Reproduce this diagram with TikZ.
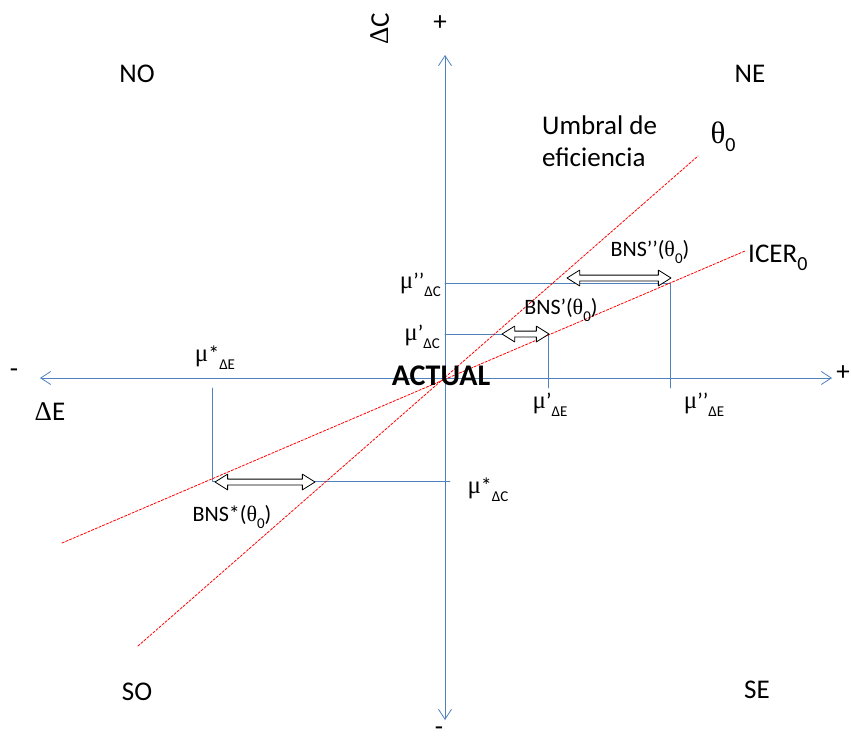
\documentclass[tikz,border=0pt]{standalone}
\usepackage{fontspec}
\setmainfont{Carlito}
\newfontfamily\grk{Liberation Serif}
\usepackage{tikz}
\usetikzlibrary{arrows.meta,shapes.arrows}
\definecolor{axisblue}{HTML}{4F81BD}
\definecolor{threshred}{HTML}{FF0000}
\newcommand{\ssub}[1]{\raisebox{-0.35em}{\fontsize{15pt}{15pt}\selectfont #1}}
\newcommand{\bsub}[1]{\raisebox{-0.3em}{\fontsize{20pt}{20pt}\selectfont #1}}
\newcommand{\smu}{{\grk\fontsize{25pt}{25pt}\selectfont μ}}
\tikzset{
    every picture/.style={line cap=round,line join=round},
    axisline/.style={draw=axisblue,line width=0.8pt,
      {Straight Barb[length=10pt,width=13pt]}-{Straight Barb[length=10pt,width=13pt]}},
    guideline/.style={draw=axisblue,line width=0.8pt},
    threshline/.style={draw=threshred,line width=0.8pt,dash pattern=on 2.5pt off 1.5pt},
    biglabel/.style={font=\fontsize{27pt}{32pt}\selectfont,inner sep=0pt,align=left},
    smalllabel/.style={font=\fontsize{22pt}{24pt}\selectfont,inner sep=0pt},
    bnsarrow/.style={double arrow,draw=black,fill=white,line width=0.8pt,
      inner xsep=0pt,inner ysep=2.5pt,double arrow head extend=5pt,double arrow tip angle=64}
}
\begin{document}
\begin{tikzpicture}[x=1pt,y=-1pt]
  \useasboundingbox (0,0) rectangle (851,744);
  \coordinate (O) at (445,378);
  \coordinate (xneg) at (40,378);
  \coordinate (xpos) at (832,378);
  \coordinate (ypos) at (445,55);
  \coordinate (yneg) at (445,720);
  \coordinate (th1) at (138,646);
  \coordinate (th2) at (698,156);
  \coordinate (ic1) at (62,543);
  \coordinate (ic2) at (745,251);
  \coordinate (ddc) at (445,283);
  \coordinate (dd) at (670,283);
  \coordinate (dde) at (670,388);
  \coordinate (dc) at (445,334);
  \coordinate (d) at (548,334);
  \coordinate (de) at (548,388);
  \coordinate (se) at (212,388);
  \coordinate (s) at (212,481);
  \coordinate (sc) at (450,481);
  \draw[guideline] (ddc)--(dd)--(dde);
  \draw[guideline] (dc)--(d)--(de);
  \draw[guideline] (se)--(s)--(sc);
  \draw[axisline] (xneg)--(xpos);
  \draw[axisline] (yneg)--(ypos);
  \draw[threshline] (th1)--(th2);
  \draw[threshline] (ic1)--(ic2);
  \node[bnsarrow,minimum height=104pt] (bnsdd) at (619,278) {};
  \node[bnsarrow,minimum height=47pt] (bnsd) at (525.5,334) {};
  \node[bnsarrow,minimum height=100pt] (bnss) at (265,482) {};
  \node[biglabel] (no) at (137,74) {NO};
  \node[biglabel] (ne) at (750,74) {NE};
  \node[biglabel] (so) at (137,692) {SO};
  \node[biglabel] (se) at (757,690) {SE};
  \node[biglabel,rotate=90] (dclab) at (380,29) {{\grk Δ}C};
  \node[biglabel] (ptop) at (440,23) {+};
  \node[biglabel] (mbot) at (439,731) {-};
  \node[biglabel] (mleft) at (14,373) {-};
  \node[biglabel] (pright) at (843,373) {+};
  \node[biglabel] (delab) at (50,412) {{\grk Δ}E};
  \node[biglabel,font=\fontsize{30pt}{32pt}\selectfont\bfseries] (actual) at (441,376) {ACTUAL};
  \node[biglabel,anchor=west] (umbral) at (542,141) {Umbral de\\eficiencia};
  \node[biglabel] (thlab) at (723,137) {{\grk\fontsize{31pt}{31pt}\selectfont θ}\bsub{0}};
  \node[biglabel,anchor=west] (iclab) at (748,258) {ICER\bsub{0}};
  \node[smalllabel,anchor=east] (mddc) at (441,285) {\smu’’\ssub{ΔC}};
  \node[smalllabel,anchor=east] (mdc) at (440,337) {\smu’\ssub{ΔC}};
  \node[smalllabel] (msde) at (215,358) {\smu*\ssub{ΔE}};
  \node[smalllabel] (mde) at (550,405) {\smu’\ssub{ΔE}};
  \node[smalllabel] (mdde) at (704,405) {\smu’’\ssub{ΔE}};
  \node[smalllabel] (msdc) at (488,490) {\smu*\ssub{ΔC}};
  \node[smalllabel] (bnsslab) at (232,517) {BNS*({\grk θ}\ssub{0})};
  \node[smalllabel] (bnsdlab) at (561,310) {BNS’({\grk θ}\ssub{0})};
  \node[smalllabel] (bnsddlab) at (650,252) {BNS’’({\grk θ}\ssub{0})};
\end{tikzpicture}
\end{document}
